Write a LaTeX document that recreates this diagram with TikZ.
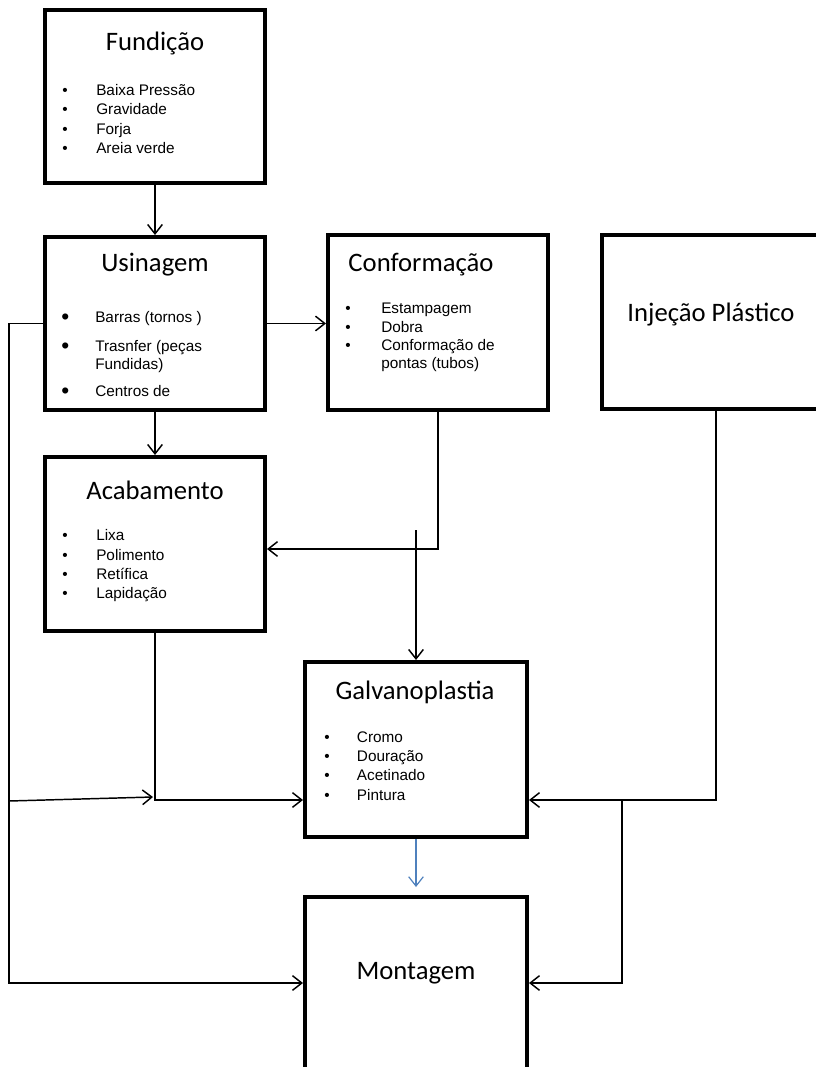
\documentclass[tikz,border=0pt]{standalone}
\usepackage{fontspec}
\setmainfont{Liberation Sans}
\newfontfamily\calibri{Carlito}
\usetikzlibrary{arrows.meta}
\definecolor{galvblue}{RGB}{79,129,189}
\tikzset{
  procbox/.style={draw, line width=3pt, minimum width=165pt, inner sep=0pt},
  ttl/.style={font=\calibri\fontsize{20}{24}\selectfont, inner sep=0pt},
  lst/.style={font=\fontsize{11.5}{14.4}\selectfont, align=left, anchor=west, inner sep=0pt},
  flow/.style={line width=1.1pt, -{Straight Barb[length=7pt,width=11pt]}},
}
\newcommand{\blt}[1][25.5pt]{\makebox[#1][l]{\textbullet}}
\newcommand{\bigblt}{\makebox[25.5pt][l]{\raisebox{-1.5pt}{\fontsize{17}{17}\selectfont\textbullet}}}

\begin{document}
\begin{tikzpicture}[x=0.75pt,y=-0.75pt]
  \useasboundingbox (0,0) rectangle (816,1067);
  \clip (0,0) rectangle (816,1067);
  % boxes
  \node[procbox, minimum height=129.75pt] (fund) at (155,96.5) {};
  \node[procbox, minimum height=129.75pt] (usin) at (155,323.5) {};
  \node[procbox, minimum height=130.5pt] (acab) at (155,544) {};
  \node[procbox, minimum height=131.25pt] (conf) at (438,322.5) {};
  \node[procbox, minimum width=171pt, minimum height=130.5pt] (inj) at (716,322) {};
  \node[procbox, minimum width=166.5pt, minimum height=131.25pt] (galv) at (416,749.5) {};
  \node[procbox, minimum width=166.5pt, minimum height=150pt] (mont) at (416,997) {};

  % titles
  \node[ttl] (fundT) at (155,43) {Fundição};
  \node[ttl] (usinT) at (155,265) {Usinagem};
  \node[ttl] (confT) at (421,265) {Conformação};
  \node[ttl] (acabT) at (155,490) {Acabamento};
  \node[ttl] (injT) at (711,315) {Injeção Plástico};
  \node[ttl] (galvT) at (415,692) {Galvanoplastia};
  \node[ttl] (montT) at (416,973) {Montagem};

  % lists
  \node[lst] (fundL) at (62,119) {\blt Baixa Pressão\\ \blt Gravidade\\ \blt Forja\\ \blt Areia verde};
  \node[lst, anchor=base west, font=\fontsize{11.5}{13.5}\selectfont] (usinA) at (61,322) {\bigblt Barras (tornos )};
  \node[lst, anchor=base west, font=\fontsize{11.5}{13.5}\selectfont] (usinB) at (61,351)
    {\bigblt\begin{tabular}[t]{@{}l@{}}Trasnfer (peças\\Fundidas)\end{tabular}};
  \node[lst, anchor=base west, font=\fontsize{11.5}{13.5}\selectfont] (usinC) at (61,396) {\bigblt Centros de};
  \node[lst, font=\fontsize{11.5}{13.75}\selectfont] (confL) at (345,337.5)
    {\blt[27pt]Estampagem\\ \blt[27pt]Dobra\\ \blt[27pt]Conformação de\\\hspace*{27pt}pontas (tubos)};
  \node[lst, font=\fontsize{11.5}{14.5}\selectfont] (acabL) at (62,566)
    {\blt Lixa\\ \blt Polimento\\ \blt Retífica\\ \blt Lapidação};
  \node[lst, font=\fontsize{11.5}{14.5}\selectfont] (galvL) at (324,766)
    {\blt[24.5pt]Cromo\\ \blt[24.5pt]Douração\\ \blt[24.5pt]Acetinado\\ \blt[24.5pt]Pintura};

  % junctions
  \coordinate (lb) at (9,983);
  \coordinate (lm) at (9,801);
  \coordinate (am) at (153,797);
  \coordinate (j1) at (438,549);
  \coordinate (g0) at (416,530);
  \coordinate (j2) at (155,800);
  \coordinate (j3) at (716,800);
  \coordinate (j4) at (622,800);
  \coordinate (j5) at (622,983);
  \coordinate (m0) at (416,887);

  % connectors
  \draw[flow] (fund) -- (usin);
  \draw[flow] (usin.east) -- (usin.east -| conf.west);
  \draw[flow] (usin) -- (acab);
  \draw[flow] (conf.south) -- (j1) -- (j1 -| acab.east);
  \draw[flow] (g0) -- (galv.north);
  \draw[flow] (usin.west) -| (lb) -- (lb -| mont.west);
  \draw[flow] (lm) -- (am);
  \draw[flow] (acab.south) -- (j2) -- (j2 -| galv.west);
  \draw[flow] (inj.south) -- (j3) -- (j3 -| galv.east);
  \draw[flow] (j4) -- (j5) -- (j5 -| mont.east);
  \draw[flow, galvblue, line width=0.9pt] (galv.south) -- (m0);
\end{tikzpicture}
\end{document}
